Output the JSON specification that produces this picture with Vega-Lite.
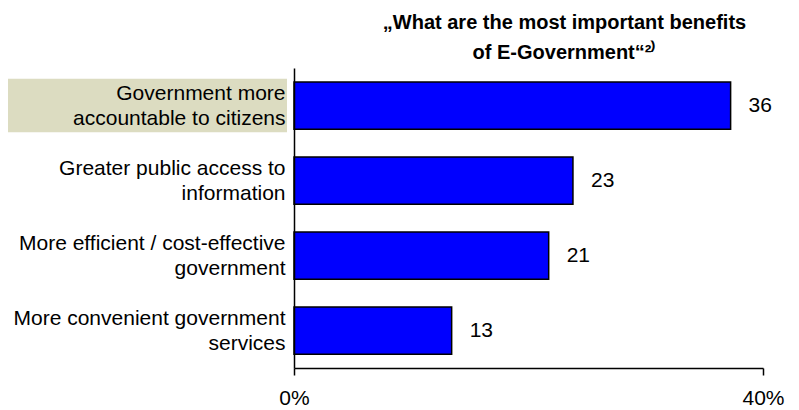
{
  "$schema": "https://vega.github.io/schema/vega-lite/v6.json",
  "autosize": {"type": "none"},
  "width": 469,
  "height": 300,
  "padding": {"left": 294, "top": 68, "right": 36, "bottom": 42},
  "background": "white",
  "config": {
    "view": {"stroke": null},
    "font": "Liberation Sans"
  },
  "title": {
    "text": ["„What are the most important benefits", "of E-Government“²⁾"],
    "font": "Liberation Sans",
    "fontSize": 20,
    "fontWeight": "bold",
    "lineHeight": 30,
    "color": "black",
    "anchor": "middle",
    "dx": 36,
    "offset": 5
  },
  "data": {
    "values": [
      {"label": "Government more|accountable to citizens", "value": 36, "highlight": true},
      {"label": "Greater public access to|information", "value": 23, "highlight": false},
      {"label": "More efficient / cost-effective|government", "value": 21, "highlight": false},
      {"label": "More convenient government|services", "value": 13, "highlight": false}
    ]
  },
  "encoding": {
    "y": {
      "field": "label",
      "type": "nominal",
      "sort": null,
      "title": null,
      "scale": {"paddingInner": 0.37, "paddingOuter": 0.185},
      "axis": {
        "labelExpr": "split(datum.label, '|')",
        "labelFontSize": 21,
        "labelLineHeight": 25,
        "labelColor": "black",
        "labelPadding": 9,
        "labelOffset": -12,
        "labelLimit": 400,
        "ticks": false,
        "domainColor": "black",
        "domainWidth": 1.5,
        "grid": false,
        "zindex": 1
      }
    }
  },
  "layer": [
    {
      "transform": [{"filter": "datum.highlight"}],
      "mark": {"type": "bar", "color": "#DCDCC1", "height": {"band": 1.13}},
      "encoding": {
        "x": {"value": -286},
        "x2": {"value": -7}
      }
    },
    {
      "mark": {"type": "bar", "color": "#0000FF", "stroke": "black", "strokeWidth": 1.5},
      "encoding": {
        "x": {
          "field": "value",
          "type": "quantitative",
          "title": null,
          "scale": {"domain": [0, 38.67], "nice": false},
          "axis": {
            "values": [0, 38.67],
            "labelExpr": "datum.value == 0 ? '0%' : '40%'",
            "labelFontSize": 21,
            "labelColor": "black",
            "labelPadding": 12,
            "labelFlush": false,
            "tickSize": 7,
            "tickColor": "black",
            "tickWidth": 1.5,
            "domainColor": "black",
            "domainWidth": 1.5,
            "grid": false,
            "zindex": 1
          }
        }
      }
    },
    {
      "mark": {"type": "text", "align": "left", "baseline": "middle", "dx": 18, "fontSize": 21, "color": "black"},
      "encoding": {
        "x": {"field": "value", "type": "quantitative"},
        "text": {"field": "value", "type": "quantitative"}
      }
    }
  ]
}
